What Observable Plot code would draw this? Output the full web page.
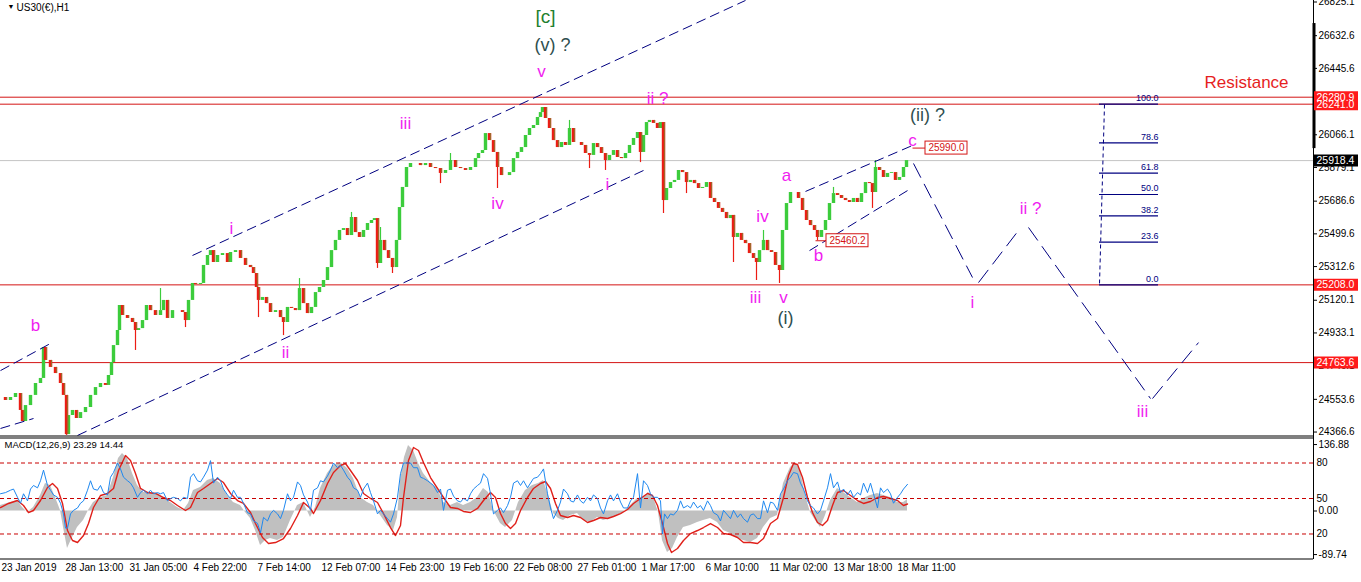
<!DOCTYPE html>
<html><head><meta charset="utf-8">
<script src="https://cdn.jsdelivr.net/npm/d3@7"></script>
<script src="https://cdn.jsdelivr.net/npm/@observablehq/plot@0.6"></script>
<style>
html,body{margin:0;padding:0;background:#fff;}
#wrap{position:relative;width:1361px;height:582px;overflow:hidden;background:#fff;}
</style></head>
<body><div id="wrap"></div>
<script>
// ---------- DATA ----------
const headerText = "US30(€),H1";
const macdTitle = "MACD(12,26,9) 23.29 14.44";
// [bar index (hours from left edge), close price]
const priceBars = [
[0,24564],[5,24547],[10,24564],[15,24587],[20,24490],[22,24427],[25,24518],[30,24576],[35,24644],[40,24673],
[43,24850],[45,24776],[50,24736],[55,24701],[60,24644],[63,24576],[66,24352],[68,24461],[72,24490],[76,24444],
[80,24478],[85,24507],[90,24576],[95,24621],[100,24644],[105,24633],[108,24690],[111,24764],[113,24861],[117,24947],
[119,25090],[122,25033],[127,25016],[132,24993],[135,24947],[138,24958],[142,25004],[146,25090],[150,25061],[155,25033],
[160,25061],[163,25119],[167,25016],[172,25061],[177,25061],[182,25050],[185,25004],[188,25119],[192,25216],[195,25210],
[200,25216],[203,25319],[207,25376],[210,25404],[213,25336],[217,25376],[222,25387],[227,25336],[230,25393],[235,25404],
[240,25359],[245,25319],[250,25307],[253,25273],[256,25193],[258,25119],[262,25136],[266,25101],[270,25050],[275,25061],
[280,25021],[283,24993],[287,25079],[291,25073],[295,25061],[299,25187],[303,25101],[307,25044],[311,25079],[315,25164],
[319,25193],[323,25233],[327,25307],[331,25404],[335,25462],[339,25519],[343,25530],[347,25490],[351,25593],[355,25507],
[359,25479],[363,25519],[367,25559],[371,25576],[374,25587],[377,25330],[380,25462],[384,25404],[388,25359],[392,25307],
[396,25462],[399,25650],[402,25765],[406,25879],[410,25902],[415,25902],[420,25890],[425,25902],[430,25879],[435,25873],
[440,25845],[445,25862],[450,25919],[455,25879],[460,25873],[465,25862],[470,25879],[475,25930],[478,25959],[482,25976],
[485,26073],[489,26033],[493,25965],[497,25879],[501,25833],[505,25833],[509,25850],[513,25930],[517,25965],[521,25993],
[525,26062],[529,26102],[533,26119],[537,26165],[540,26193],[542,26222],[545,26159],[549,26102],[553,26033],[557,25993],
[561,26022],[565,26005],[569,26102],[573,26022],[577,26022],[581,26005],[585,25959],[589,25948],[593,26016],[597,25993],
[601,25959],[605,25919],[609,25948],[613,25976],[617,25936],[621,25930],[625,25959],[629,26005],[633,26045],[637,26079],
[640,25965],[643,26062],[646,26136],[649,26148],[653,26131],[657,26102],[660,26136],[663,25690],[666,25759],[670,25793],
[674,25805],[678,25862],[682,25850],[686,25793],[690,25805],[694,25787],[698,25759],[702,25765],[706,25793],[710,25702],
[714,25679],[718,25645],[722,25622],[726,25587],[730,25605],[733,25479],[737,25502],[741,25462],[745,25444],[749,25387],
[753,25359],[756,25336],[759,25404],[763,25462],[767,25404],[771,25393],[775,25319],[779,25290],[782,25519],[786,25673],
[790,25736],[794,25736],[798,25702],[802,25633],[806,25576],[810,25547],[814,25519],[817,25479],[821,25519],[825,25576],
[829,25673],[833,25730],[837,25719],[841,25702],[845,25690],[849,25679],[853,25702],[857,25679],[861,25730],[865,25793],
[869,25787],[872,25736],[875,25879],[879,25862],[883,25822],[887,25845],[891,25850],[895,25805],[899,25822],[903,25879],
[906,25918.4]
];
// notable wick extremes [bar, price]
const wickBars = [
[66,24347],[135,24833],[160,25187],[185,24964],[258,25021],[283,24918],[299,25244],[351,25622],[377,25302],[380,25536],
[392,25273],[440,25787],[450,25959],[497,25759],[569,26148],[589,25873],[605,25862],[640,25907],[663,25616],[686,25730],
[733,25336],[756,25233],[763,25519],[779,25216],[817,25460.2],[833,25765],[872,25645],[875,25919]
];
// MACD histogram [bar, value]
const macdHist = [
[0,11.3],[10,17.5],[17,21.6],[22,7.2],[27,-3.1],[33,7.2],[40,31.9],[45,56.7],[50,52.5],[55,27.8],[60,1.0],[63,-34.0],
[67,-77.3],[72,-54.6],[77,-34.0],[83,-19.6],[88,1.0],[93,17.5],[100,27.8],[107,31.9],[113,69.0],[118,108.2],[122,118.5],
[127,108.2],[132,77.3],[137,52.5],[143,38.1],[150,38.1],[157,36.1],[163,27.8],[170,17.5],[177,7.2],[183,1.0],[188,15.5],
[193,42.2],[200,48.4],[207,62.8],[213,67.0],[220,56.7],[227,31.9],[233,17.5],[240,11.3],[245,-3.1],[250,-15.5],[255,-40.2],
[260,-71.1],[265,-60.8],[270,-56.7],[277,-60.8],[283,-54.6],[290,-19.6],[297,11.3],[303,17.5],[310,-13.4],[315,7.2],
[320,46.4],[327,77.3],[333,93.7],[340,99.9],[347,87.6],[353,67.0],[360,27.8],[367,17.5],[373,11.3],[380,-9.3],[387,-29.9],
[393,-40.2],[397,-13.4],[400,62.8],[404,110.2],[408,134.9],[413,124.6],[418,97.9],[423,77.3],[430,58.7],[437,46.4],
[443,17.5],[450,11.3],[457,17.5],[463,11.3],[470,17.5],[477,27.8],[483,46.4],[488,38.1],[493,1.0],[500,-25.8],[505,-34.0],
[512,-19.6],[518,17.5],[525,42.2],[532,52.5],[538,56.7],[543,62.8],[548,31.9],[553,-5.2],[558,-15.5],[563,-19.6],
[570,-9.3],[577,-5.2],[583,-19.6],[590,-23.7],[597,-13.4],[603,-19.6],[610,-15.5],[617,-9.3],[623,-3.1],[630,11.3],
[637,25.8],[643,27.8],[648,38.1],[653,27.8],[658,-3.1],[662,-60.8],[667,-85.5],[672,-77.3],[677,-54.6],[683,-34.0],
[690,-29.9],[697,-23.7],[703,-19.6],[710,-15.5],[717,-23.7],[723,-40.2],[730,-46.4],[737,-56.7],[743,-60.8],[750,-64.9],
[757,-56.7],[763,-34.0],[770,-15.5],[777,-9.3],[783,56.7],[790,89.6],[795,99.9],[800,83.4],[805,31.9],[810,-3.1],
[815,-19.6],[820,-34.0],[825,-9.3],[830,21.6],[837,46.4],[843,38.1],[850,27.8],[857,17.5],[863,25.8],[870,31.9],
[877,36.1],[883,31.9],[890,27.8],[897,17.5],[903,17.5],[907,23.29]
];
// MACD signal [bar, value]
const macdSignal = [
[0,7.2],[8,15.5],[17,21.6],[23,11.3],[28,-3.1],[33,1.0],[40,21.6],[47,48.4],[52,56.7],[57,46.4],[62,15.5],[67,-40.2],
[72,-60.8],[77,-64.9],[83,-50.5],[88,-25.8],[93,7.2],[100,31.9],[107,36.1],[113,46.4],[118,83.4],[125,114.3],[130,104.0],
[135,77.3],[140,46.4],[147,38.1],[155,36.1],[163,27.8],[170,21.6],[177,11.3],[185,1.0],[190,7.2],[197,38.1],[203,46.4],
[210,56.7],[217,67.0],[223,58.7],[230,36.1],[237,21.6],[243,15.5],[250,-3.1],[255,-25.8],[262,-54.6],[268,-67.0],
[275,-64.9],[283,-56.7],[290,-36.1],[297,-9.3],[303,17.5],[310,5.2],[313,-5.2],[320,21.6],[327,56.7],[333,79.3],
[340,93.7],[345,97.9],[350,83.4],[357,62.8],[363,36.1],[370,25.8],[377,17.5],[383,-5.2],[390,-34.0],[395,-50.5],
[400,-29.9],[403,27.8],[408,104.0],[413,130.8],[418,124.6],[423,99.9],[430,69.0],[437,46.4],[443,27.8],[450,7.2],
[457,5.2],[463,-1.0],[470,-3.1],[477,5.2],[483,21.6],[490,38.1],[495,27.8],[500,-5.2],[505,-25.8],[510,-36.1],
[515,-25.8],[520,1.0],[527,27.8],[533,46.4],[540,56.7],[545,60.8],[550,46.4],[555,15.5],[560,-9.3],[567,-13.4],
[573,-9.3],[580,-13.4],[587,-23.7],[593,-19.6],[600,-13.4],[607,-15.5],[613,-11.3],[620,-5.2],[627,3.1],[633,15.5],
[640,25.8],[647,36.1],[652,31.9],[657,11.3],[662,-25.8],[667,-67.0],[671,-85.5],[677,-77.3],[683,-60.8],[690,-46.4],
[697,-40.2],[703,-34.0],[710,-25.8],[717,-34.0],[723,-46.4],[730,-48.4],[737,-54.6],[743,-64.9],[750,-64.9],[757,-67.0],
[763,-56.7],[770,-25.8],[777,-15.5],[783,27.8],[788,73.1],[793,97.9],[797,95.8],[802,69.0],[807,27.8],[812,-3.1],
[817,-23.7],[822,-29.9],[827,-19.6],[832,11.3],[837,38.1],[843,42.2],[850,31.9],[857,21.6],[863,15.5],[870,19.6],
[877,27.8],[883,29.9],[890,25.8],[897,21.6],[903,11.3],[907,14.44]
];
// overlaid oscillator (0-100, levels 80/50/20) [bar, value]
const oscLine = [
[0,54],[5,55],[10,57],[13,58],[17,51],[20,46],[23,54],[27,48],[30,58],[33,61],[37,59],[40,65],[43,74],[47,61],[50,57],
[53,53],[57,51],[60,46],[63,37],[65,25],[67,25],[70,37],[73,40],[77,42],[80,46],[83,48],[87,57],[90,65],[93,58],[97,57],
[100,61],[103,55],[107,53],[110,68],[113,72],[117,80],[120,75],[123,68],[127,65],[130,63],[133,59],[137,51],[140,55],
[143,57],[147,54],[150,57],[153,54],[157,55],[160,54],[163,55],[167,48],[170,50],[173,51],[177,50],[180,48],[183,51],
[187,50],[190,68],[193,71],[197,65],[200,64],[203,68],[207,74],[210,82],[213,63],[217,68],[220,65],[223,58],[227,53],
[230,50],[233,57],[237,51],[240,51],[243,46],[247,38],[250,37],[253,31],[257,29],[260,21],[263,34],[267,31],[270,37],
[273,40],[277,37],[280,33],[283,40],[287,54],[290,48],[293,51],[297,64],[300,61],[303,53],[307,47],[310,40],[313,57],
[317,59],[320,65],[323,64],[327,69],[330,74],[333,80],[337,76],[340,78],[343,74],[347,68],[350,65],[353,59],[357,57],
[360,51],[363,58],[367,63],[370,55],[373,48],[377,37],[380,40],[383,37],[387,33],[390,30],[393,37],[397,51],[400,71],
[403,80],[407,80],[410,80],[413,76],[417,76],[420,68],[423,67],[427,65],[430,63],[433,61],[437,55],[440,58],[443,40],
[447,57],[450,58],[453,52],[457,48],[460,47],[463,50],[467,48],[470,54],[473,58],[477,61],[480,63],[483,71],[487,67],
[490,54],[493,37],[497,40],[500,42],[503,38],[507,44],[510,51],[513,63],[517,65],[520,61],[523,65],[527,59],[530,63],
[533,67],[537,68],[540,71],[543,75],[547,54],[550,42],[553,33],[557,40],[560,47],[563,58],[567,54],[570,48],[573,47],
[577,53],[580,48],[583,46],[587,51],[590,48],[593,53],[597,50],[600,42],[603,37],[607,48],[610,53],[613,48],[617,54],
[620,47],[623,42],[627,42],[630,48],[633,51],[637,71],[640,42],[643,65],[647,61],[650,54],[653,51],[657,51],[660,48],
[662,20],[664,37],[667,33],[670,37],[673,36],[677,40],[680,48],[683,42],[687,44],[690,42],[693,47],[697,42],[700,44],
[703,40],[707,48],[710,44],[713,38],[717,36],[720,31],[723,40],[727,36],[730,33],[733,40],[737,34],[740,37],[743,33],
[747,30],[750,36],[753,37],[757,33],[760,33],[763,48],[767,38],[770,47],[773,46],[777,40],[780,54],[783,58],[787,65],
[790,68],[793,72],[797,71],[800,63],[803,58],[807,48],[810,44],[813,42],[817,37],[820,40],[823,48],[827,59],[830,71],
[833,59],[837,64],[840,55],[843,58],[847,53],[850,57],[853,51],[857,55],[860,53],[863,63],[867,55],[870,63],[873,54],
[877,42],[880,59],[883,55],[887,58],[890,54],[893,46],[897,51],[900,54],[903,58],[907,62]
];
const oscLevels = [80, 50, 20];
const macdAxisTicks = [136.88, 0, -89.74];
const priceTicks = [26825.1,26632.6,26445.6,26066.1,25879.1,25686.6,25499.6,25312.6,25120.1,24933.1,24746.1,24553.6,24366.6];
const timeTickBars = [0,64,128,192,256,320,384,448,512,576,640,704,768,832,896];
const timeTickLabels = ["23 Jan 2019","28 Jan 13:00","31 Jan 05:00","4 Feb 22:00","7 Feb 14:00","12 Feb 07:00","14 Feb 23:00",
  "19 Feb 16:00","22 Feb 08:00","27 Feb 01:00","1 Mar 17:00","6 Mar 10:00","11 Mar 02:00","13 Mar 18:00","18 Mar 11:00"];
const levelPrices = [26280.9, 26241.0, 25208.0, 24763.6];
const lastPrice = 25918.4;
const axisTagPrices = [26280.9, 26241.0, 25208.0, 24763.6, 25918.4];
const axisTagKinds = ["red","red","red","red","black"];
const tagPrices = [25990.0, 25460.2];
const tagFromBars = [912, 815];
const tagBars = [925, 826];
// channel / projection segments [bar1, price1, bar2, price2]
const channelSegs = [[192,25376,745,26834],[77,24347,643,25862],[0,24718,50,24873],[0,24387,33,24444],[805,25742,912,26005],[809,25404,907,25747]];
const projectionSegs = [[913,25902,972,25250],[978,25221,1018,25519],[1028,25536,1150,24558],[1152,24558,1198,24878]];
const fibLabels = ["100.0","78.6","61.8","50.0","38.2","23.6","0.0"];
const fibPrices = [26241.0,26020.0,25846.4,25724.5,25602.6,25451.8,25208.0];
const fibBars = [1099, 1158];
const fibVertical = [[1104,26239,1099,25210]];
const axisBarRange = [25987, 26702];
const waveText   = ["[c]","(v) ?","v","iii","ii ?","(ii) ?","c","a","iv","i","i","iv","b","iii","v","(i)","b","ii","i","ii ?","iii","Resistance"];
const waveBars   = [545,552,541,405,657,927,912,786,497,607,231,762,818,755,783,785,35,285,972,1030,1142,1246];
const wavePrices = [26742,26576,26428,26131,26273,26176,26033,25833,25673,25782,25530,25599,25376,25136,25136,25016,24976,24821,25107,25644,24484,26365];
const waveKinds  = ["green","grey","mag","mag","mag","grey","mag","mag","mag","mag","mag","mag","mag","mag","mag","grey","mag","mag","mag","mag","mag","red"];

// ---------- STYLE ----------
const W = 1361, AXX = 1313, FONT = '"Liberation Sans", Arial, sans-serif';
const UP = "#3ccc3c", DOWN = "#ec1c14", BROWN = "#a0682a", NAVY = "#000080", LRED = "#d41414";
const KCOL = {mag: "#f01cf0", grey: "#2f4f4f", green: "#1f7f2f", red: "#e61e1e"};
const KSIZE = {mag: 17, grey: 18, green: 19, red: 17};
const priceDomain = [24335.4, 26833.7];
const MAIN_H = 437;
const PPX = (priceDomain[1] - priceDomain[0]) / MAIN_H;
const wrap = document.getElementById("wrap");
const svgStyle = (top) => ({position: "absolute", left: "0px", top: top + "px", background: "transparent", overflow: "visible", fontFamily: FONT, fontSize: "10px", color: "black"});

// ---------- MAIN PRICE PANEL ----------
const bars = priceBars.map(([h, c]) => ({h, c}));
const candles = bars.slice(1).map((d, i) => ({h: d.h, o: bars[i].c, c: d.c}));
const upC = candles.filter(d => d.c >= d.o), dnC = candles.filter(d => d.c < d.o);
const closeAt = new Map(bars.map(d => [d.h, d.c]));
const wicks = wickBars.map(([h, p]) => ({h, p, c: closeAt.get(h)}));
const segs = a => a.map(([x1, y1, x2, y2]) => ({x1, y1, x2, y2}));
const fib = fibPrices.map((p, i) => ({p, label: fibLabels[i]}));
const waves = waveText.map((t, i) => ({t, h: waveBars[i], p: wavePrices[i], k: waveKinds[i]}));
const tags = tagPrices.map((p, i) => ({p, from: tagFromBars[i], h: tagBars[i]}));
const axisTags = axisTagPrices.map((p, i) => ({p, k: axisTagKinds[i]}));

const waveMarks = Object.keys(KCOL).map(k => Plot.text(waves.filter(d => d.k === k), {
  x: "h", y: "p", text: "t", fill: KCOL[k], fontSize: KSIZE[k], fontFamily: FONT
}));

const main = Plot.plot({
  width: W, height: MAIN_H, marginLeft: 0, marginRight: W - AXX, marginTop: 0, marginBottom: 0,
  x: {domain: [0, AXX], axis: null, label: null},
  y: {domain: priceDomain, label: null},
  style: svgStyle(0),
  marks: [
    Plot.ruleY([lastPrice], {stroke: "#c4c4c4", strokeWidth: 1}),
    Plot.ruleY(levelPrices, {stroke: LRED, strokeWidth: 1}),
    Plot.ruleX(wicks.filter(d => d.p < d.c), {x: "h", y1: "p", y2: "c", stroke: DOWN, strokeWidth: 1.2}),
    Plot.ruleX(wicks.filter(d => d.p >= d.c), {x: "h", y1: "p", y2: "c", stroke: UP, strokeWidth: 1.2}),
    Plot.ruleX(upC, {x: "h", y1: "o", y2: "c", stroke: UP, strokeWidth: 3.4}),
    Plot.ruleX(dnC, {x: "h", y1: "o", y2: "c", stroke: DOWN, strokeWidth: 3.4}),
    Plot.ruleX(dnC, {x: "h", y1: "o", y2: "c", stroke: BROWN, strokeWidth: 1.2, dx: 1}),
    Plot.link(segs(channelSegs), {x1: "x1", y1: "y1", x2: "x2", y2: "y2", stroke: NAVY, strokeWidth: 1, strokeDasharray: "10,5"}),
    Plot.link(segs(projectionSegs), {x1: "x1", y1: "y1", x2: "x2", y2: "y2", stroke: NAVY, strokeWidth: 1, strokeDasharray: "16,7"}),
    Plot.link(segs(fibVertical), {x1: "x1", y1: "y1", x2: "x2", y2: "y2", stroke: NAVY, strokeWidth: 1, strokeDasharray: "4,3"}),
    Plot.ruleY(fib, {y: "p", x1: fibBars[0], x2: fibBars[1], stroke: NAVY, strokeWidth: 1.2}),
    Plot.text(fib, {x: fibBars[1], y: "p", text: "label", textAnchor: "end", dy: -6, fill: NAVY, fontSize: 9, fontFamily: FONT}),
    Plot.link(tags, {x1: "from", x2: "h", y1: "p", y2: "p", stroke: LRED, strokeWidth: 1}),
    Plot.rect(tags, {x1: "h", x2: d => d.h + 42, y1: d => d.p - 6.5 * PPX, y2: d => d.p + 6.5 * PPX, fill: "white", stroke: LRED, strokeWidth: 1}),
    Plot.text(tags, {x: d => d.h + 21, y: "p", text: d => d.p.toFixed(1), fill: LRED, fontSize: 10, fontFamily: FONT}),
    ...waveMarks,
    Plot.ruleX([AXX], {stroke: "black", strokeWidth: 1}),
    Plot.ruleX([AXX], {y1: axisBarRange[0], y2: axisBarRange[1], stroke: "black", strokeWidth: 3, dx: 0.5}),
    Plot.axisY({anchor: "right", label: null, ticks: priceTicks, tickFormat: d => d.toFixed(1), tickSize: 3, tickPadding: 2, fontSize: 10, textAnchor: "start", fill: "black", stroke: "black"}),
    Plot.ruleY(axisTags, {y: "p", x1: AXX + 1, x2: AXX + 45, stroke: d => d.k === "red" ? "#ff1a1a" : "#000000", strokeWidth: 12}),
    Plot.text(axisTags, {x: AXX + 3, y: "p", text: d => d.p.toFixed(1), textAnchor: "start", fill: "white", fontSize: 10.5, fontFamily: FONT}),
    Plot.ruleY([priceDomain[0]], {stroke: "black", strokeWidth: 1, dy: -1.5}),
    Plot.text(["▼"], {frameAnchor: "top-left", dx: 7, dy: 4, fontSize: 7, fill: "black"}),
    Plot.text([headerText], {frameAnchor: "top-left", dx: 16, dy: 3, fontSize: 10, fill: "black", fontFamily: FONT})
  ]
});
wrap.appendChild(main);

// ---------- MACD PANEL ----------
const MACD_TOP = 437, MACD_H = 145, MACD_MB = 23;
const hist = macdHist.map(([h, v]) => ({h, v}));
const sig = macdSignal.map(([h, v]) => ({h, v}));
const osc = oscLine.map(([h, v]) => ({h, v}));
const labelByBar = new Map(timeTickBars.map((b, i) => [b, timeTickLabels[i]]));

const macd = Plot.plot({
  width: W, height: MACD_H, marginLeft: 0, marginRight: W - AXX, marginTop: 0, marginBottom: MACD_MB,
  x: {domain: [0, AXX], label: null},
  y: {domain: [-99.91, 151.41], label: null},
  style: svgStyle(MACD_TOP),
  marks: [
    Plot.areaY(hist, {x: "h", y1: 0, y2: "v", fill: "#c0c0c0"}),
    Plot.line(sig, {x: "h", y: "v", stroke: "#e0201a", strokeWidth: 1.4}),
    Plot.ruleY([151.41], {stroke: "black", strokeWidth: 1, dy: 0.5}),
    Plot.ruleY([-99.91], {stroke: "black", strokeWidth: 1, dy: -0.5}),
    Plot.ruleX([AXX], {stroke: "black", strokeWidth: 1}),
    Plot.axisY({anchor: "right", label: null, ticks: macdAxisTicks, tickFormat: d => d.toFixed(2), tickSize: 3, tickPadding: 2, fontSize: 10, textAnchor: "start", fill: "black", stroke: "black"}),
    Plot.axisX({anchor: "bottom", label: null, ticks: timeTickBars, tickFormat: d => labelByBar.get(d), textAnchor: "start", tickSize: 0, tickPadding: 4, fontSize: 10, fill: "black", dx: 1}),
    Plot.text([macdTitle], {frameAnchor: "top-left", dx: 4, dy: 4, fontSize: 9.5, fill: "black", fontFamily: FONT})
  ]
});
wrap.appendChild(macd);

const oscPlot = Plot.plot({
  width: W, height: MACD_H, marginLeft: 0, marginRight: W - AXX, marginTop: 0, marginBottom: MACD_MB,
  x: {domain: [0, AXX], axis: null, label: null},
  y: {domain: [-1.55, 101.55], label: null},
  style: svgStyle(MACD_TOP),
  marks: [
    Plot.ruleY(oscLevels, {stroke: "#c80000", strokeWidth: 1, strokeDasharray: "4,3"}),
    Plot.line(osc, {x: "h", y: "v", stroke: "#1e88f0", strokeWidth: 1}),
    Plot.axisY({anchor: "right", label: null, ticks: oscLevels, tickFormat: d => String(d), tickSize: 0, tickPadding: 3, fontSize: 10, textAnchor: "start", fill: "black"})
  ]
});
wrap.appendChild(oscPlot);
</script>
</body></html>
